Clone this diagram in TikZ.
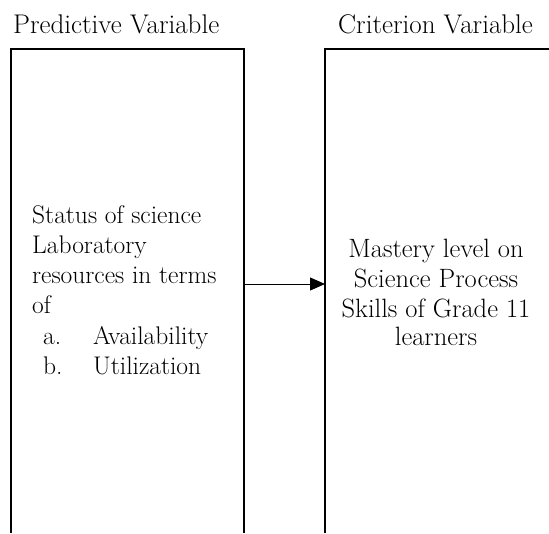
\documentclass[tikz,border=0pt]{standalone}
\usepackage{fontspec}
\setmainfont{Latin Modern Roman}
\usetikzlibrary{arrows.meta}
\begin{document}
\begin{tikzpicture}[x=1pt,y=-1pt,
  ttl/.style={inner sep=0pt, anchor=base west, font=\fontsize{27}{30}\selectfont},
  lft/.style={inner sep=0pt, anchor=base west, font=\fontsize{25.5}{30}\selectfont},
  ctr/.style={inner sep=0pt, anchor=base, font=\fontsize{26.5}{30}\selectfont},
  frame/.style={line width=1.3pt, black},
  link/.style={line width=1pt, -{Triangle[length=15pt,width=13pt]}}]
\useasboundingbox (0,0) rectangle (549,533);
% titles
\node[ttl] (t1) at (13,33) {Predictive Variable};
\node[ttl] (t2) at (338,33) {Criterion Variable};
% open-bottom boxes
\draw[frame] (11,533) -- (11,49) -- (244,49) -- (244,533);
\draw[frame] (325,533) -- (325,49) -- (549,49);
% left text
\node[lft] (l1) at (32,223) {Status of science};
\node[lft] (l2) at (32,253) {Laboratory};
\node[lft] (l3) at (32,283) {resources in terms};
\node[lft] (l4) at (32,313) {of};
\node[lft] (la) at (43,344) {a.};
\node[lft] (lai) at (93,344) {Availability};
\node[lft] (lb) at (43,374) {b.};
\node[lft] (lbi) at (93,374) {Utilization};
% right text
\node[ctr] (r1) at (436,257) {Mastery level on};
\node[ctr] (r2) at (436,287) {Science Process};
\node[ctr] (r3) at (436,317) {Skills of Grade 11};
\node[ctr] (r4) at (436,345) {learners};
% connector
\coordinate (pa) at (244,284);
\coordinate (pb) at (325,284);
\draw[link] (pa) -- (pb);
\end{tikzpicture}
\end{document}
